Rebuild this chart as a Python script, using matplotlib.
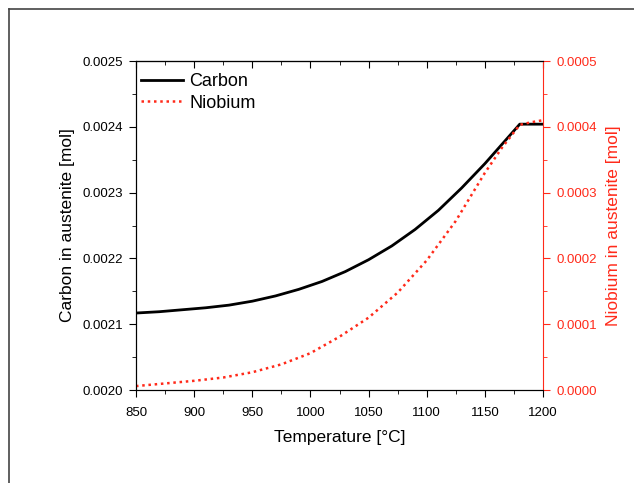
import matplotlib
matplotlib.use("Agg")
import matplotlib.pyplot as plt
from matplotlib.lines import Line2D
from matplotlib.ticker import MultipleLocator, FormatStrFormatter

plt.rcParams['font.family'] = ['Liberation Sans', 'DejaVu Sans']

temp_c = [850, 870, 890, 910, 930, 950, 970, 990, 1010, 1030, 1050, 1070, 1090, 1110, 1130,
          1150, 1165, 1180, 1190, 1200]
carbon = [0.002117, 0.002119, 0.002122, 0.002125, 0.002129, 0.002135, 0.002143, 0.002153, 0.002165,
          0.002180, 0.002198, 0.002219, 0.002244, 0.002273, 0.002307, 0.002344, 0.002374, 0.002404,
          0.002404, 0.002404]
temp_nb = [850, 875, 900, 925, 950, 975, 1000, 1025, 1050, 1075, 1100, 1125, 1150, 1165, 1180,
           1190, 1200]
niobium = [0.000006, 0.000010, 0.000014, 0.000019, 0.000027, 0.000039, 0.000056, 0.000081, 0.000110,
           0.000148, 0.000197, 0.000257, 0.000330, 0.000369, 0.000403, 0.000407, 0.000410]

red = '#ff2a1a'
fig = plt.figure(figsize=(6.34, 4.83), dpi=100)
ax = fig.add_axes([0.2145, 0.1925, 0.642, 0.6812])
ax2 = ax.twinx()

l1, = ax.plot(temp_c, carbon, color='black', lw=2.0, label='Carbon')
l2, = ax2.plot(temp_nb, niobium, color=red, lw=1.8, ls=(0, (1, 1.5)), label='Niobium')

ax.set_xlim(850, 1200)
ax.set_ylim(0.0020, 0.0025)
ax2.set_ylim(0.0, 0.0005)
ax.xaxis.set_major_locator(MultipleLocator(50))
ax.xaxis.set_minor_locator(MultipleLocator(25))
ax.yaxis.set_major_locator(MultipleLocator(0.0001))
ax.yaxis.set_minor_locator(MultipleLocator(0.00005))
ax.yaxis.set_major_formatter(FormatStrFormatter('%.4f'))
ax2.yaxis.set_major_locator(MultipleLocator(0.0001))
ax2.yaxis.set_minor_locator(MultipleLocator(0.00005))
ax2.yaxis.set_major_formatter(FormatStrFormatter('%.4f'))

ax.tick_params(axis='x', which='both', direction='out', top=False, labelsize=9.5, pad=7)
ax.tick_params(axis='x', which='major', length=5)
ax.tick_params(axis='x', which='minor', length=3)
ax.tick_params(axis='y', which='major', direction='out', length=5, labelsize=9.5, pad=4)
ax.tick_params(axis='y', which='minor', direction='out', length=3)
ax2.tick_params(axis='y', which='major', direction='out', length=5, colors=red, labelsize=9.5, pad=5)
ax2.tick_params(axis='y', which='minor', direction='out', length=3, colors=red)
ax2.spines['right'].set_color(red)
ax.spines['right'].set_visible(False)

axt = ax.secondary_xaxis('top')
axt.xaxis.set_major_locator(MultipleLocator(50))
axt.xaxis.set_minor_locator(MultipleLocator(25))
axt.tick_params(which='both', direction='in', labeltop=False)
axt.tick_params(which='major', length=5)
axt.tick_params(which='minor', length=3)

ax.set_xlabel('Temperature [°C]', fontsize=12.5, labelpad=8)
ax.set_ylabel('Carbon in austenite [mol]', fontsize=12.5, labelpad=6)
ax2.set_ylabel('Niobium in austenite [mol]', fontsize=12.5, color=red, labelpad=6)

ax.legend(handles=[l1, l2], loc='upper left', frameon=False, fontsize=13,
          handlelength=2.3, handletextpad=0.35, borderaxespad=0.0, labelspacing=0.25,
          bbox_to_anchor=(-0.005, 0.985))

fig.add_artist(Line2D([9/634, 9/634], [0, 1 - 9/483], transform=fig.transFigure, color='#444444', lw=1.2))
fig.add_artist(Line2D([9/634, 1], [1 - 9/483, 1 - 9/483], transform=fig.transFigure, color='#444444', lw=1.2))

fig.savefig('out.png', dpi=100)
